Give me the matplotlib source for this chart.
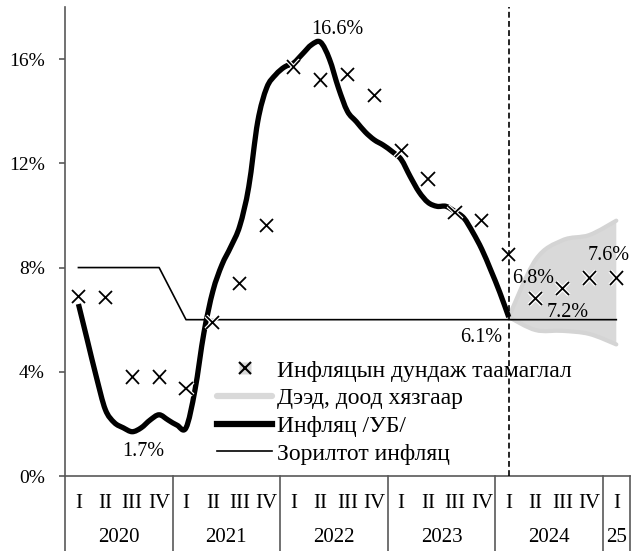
import numpy as np
import matplotlib
matplotlib.use("Agg")
import matplotlib.pyplot as plt
from matplotlib.path import Path
from matplotlib.patches import PathPatch
from matplotlib.lines import Line2D
from matplotlib.legend_handler import HandlerTuple
import matplotlib.patheffects as pe
import matplotlib.transforms as mtransforms

plt.rcParams['font.family'] = ['Liberation Serif', 'DejaVu Serif']
plt.rcParams['font.size'] = 14

# ── data ────────────────────────────────────────────────────────────────
quarters = ["I", "II", "III", "IV"] * 5 + ["I"]
years = ["2020", "2021", "2022", "2023", "2024", "25"]
year_len = [4, 4, 4, 4, 4, 1]

# average inflation expectation (quarterly, x = quarter index)
expect_q = list(range(21))
expect_val = [6.9, 6.85, 3.8, 3.8, 3.35, 5.9, 7.4, 9.6, 15.7, 15.2, 15.4, 14.6,
              12.5, 11.4, 10.1, 9.8, 8.5, 6.8, 7.2, 7.6, 7.6]

# inflation (UB), monthly read-off, x in quarter units
infl_x = [k / 3 for k in range(49)]
infl_val = [6.6, 5.2, 3.8, 2.55, 2.05, 1.85, 1.7, 1.85, 2.15, 2.35, 2.15, 1.95,
            1.85, 3.3, 5.5, 7.1, 8.1, 8.8, 9.6, 11.1, 13.6, 14.9, 15.4, 15.7,
            15.85, 16.2, 16.55, 16.65, 16.0, 14.9, 14.0, 13.6, 13.2, 12.9, 12.7, 12.45,
            12.15, 11.5, 10.9, 10.5, 10.35, 10.35, 10.15, 9.9, 9.35, 8.7, 7.9, 7.05,
            6.1]

# target inflation
target_x = [0, 3, 4, 20]
target_val = [8, 8, 6, 6]

# upper / lower bound of the forecast
band_x = [16, 17, 18, 19, 20]
band_hi = [6.1, 8.3, 9.05, 9.25, 9.8]
band_lo = [6.1, 5.6, 5.57, 5.45, 5.05]

forecast_start = 16


def smooth_path(xs, ys):
    pts = np.column_stack([xs, ys]).astype(float)
    n = len(pts)
    verts = [pts[0]]
    codes = [Path.MOVETO]
    for i in range(n - 1):
        p0 = pts[max(i - 1, 0)]
        p1 = pts[i]
        p2 = pts[i + 1]
        p3 = pts[min(i + 2, n - 1)]
        verts += [p1 + (p2 - p0) / 6, p2 - (p3 - p1) / 6, p2]
        codes += [Path.CURVE4] * 3
    return verts, codes


fig = plt.figure(figsize=(6.31, 5.51), dpi=100)
ax = fig.add_axes([0.103, 0.1361, 0.895, 0.8512])
ax.set_xlim(-0.5, 20.5)
ax.set_ylim(0, 18)

# band
v1, c1 = smooth_path(band_x, band_hi)
v2, c2 = smooth_path(band_x[::-1], band_lo[::-1])
c2[0] = Path.LINETO
band = Path(v1 + v2 + [v1[0]], c1 + c2 + [Path.CLOSEPOLY])
ax.add_patch(PathPatch(band, fc="#d9d9d9", ec="none", zorder=1))
for vals in (band_hi, band_lo):
    v, c = smooth_path(band_x, vals)
    ax.add_patch(PathPatch(Path(v, c), fill=False, ec="#d4d4d4", lw=3,
                           capstyle="round", zorder=1.5))

# target
ax.plot(target_x, target_val, color="black", lw=1.2, zorder=2)

# inflation
v, c = smooth_path(infl_x, infl_val)
ax.add_patch(PathPatch(Path(v, c), fill=False, ec="black", lw=3.8,
                       capstyle="butt", joinstyle="round", zorder=3))

# expectations
ax.plot(expect_q, expect_val, ls="none", marker="x", ms=9.5, mew=1.3,
        color="black", zorder=4,
        path_effects=[pe.withStroke(linewidth=3, foreground="white")])

# forecast divider
ax.axvline(forecast_start, color="black", lw=1.2, ls=(0, (3.5, 2)), zorder=5)

# data labels
imax = int(np.argmax(infl_val))
imin = int(np.argmin(infl_val))
lab = dict(textcoords="offset points", ha="center", va="center", fontsize=14.5)
ax.annotate(f"{infl_val[imax]:.1f}%", (infl_x[imax], infl_val[imax]), xytext=(12, 9), **lab)
ax.annotate(f"{infl_val[imin]:.1f}%", (infl_x[imin], infl_val[imin]), xytext=(8, -14.5), **lab)
ax.annotate(f"{infl_val[-1]:.1f}%", (infl_x[-1], infl_val[-1]), xytext=(-19.5, -15), **lab)
ax.annotate(f"{expect_val[17]:.1f}%", (17, expect_val[17]), xytext=(-2, 14.5), **lab)
ax.annotate(f"{expect_val[18]:.1f}%", (18, expect_val[18]), xytext=(3.5, -17), **lab)
ax.annotate(f"{expect_val[19]:.1f}%", (19, expect_val[19]), xytext=(13.7, 16), **lab)

# axes styling
axis_col = "#595959"
for s in ("top", "right"):
    ax.spines[s].set_visible(False)
for s in ("left", "bottom"):
    ax.spines[s].set_color(axis_col)
    ax.spines[s].set_linewidth(1.2)
ax.set_yticks([0, 4, 8, 12, 16])
ax.set_yticklabels([f"{t}%" for t in [0, 4, 8, 12, 16]])
ax.tick_params(axis="y", length=4.5, width=1.2, color=axis_col, pad=10)
ax.set_xticks(range(len(quarters)))
ax.set_xticklabels(quarters, fontsize=15)
ax.tick_params(axis="x", length=0, pad=13)

trans = mtransforms.blended_transform_factory(ax.transData, ax.transAxes)
start = -0.5
ax.plot([start, start], [0, -0.17], transform=trans, color=axis_col, lw=1.2, clip_on=False)
for name, n in zip(years, year_len):
    ax.text(start + n / 2, -0.132, name, transform=trans, ha="center", va="center",
            fontsize=15)
    start += n
    ax.plot([start, start], [0, -0.17], transform=trans, color=axis_col, lw=1.2, clip_on=False)

# legend
h_marker = (Line2D([], [], ls="none", marker="s", ms=8, mfc="#d9d9d9", mec="none"),
            Line2D([], [], ls="none", marker="x", ms=9, mew=1.5, color="black"))
h_band = Line2D([], [], color="#d9d9d9", lw=4.5, solid_capstyle="round")
h_infl = Line2D([], [], color="black", lw=4.5)
h_tgt = Line2D([], [], color="black", lw=1.2)
leg = ax.legend([h_marker, h_band, h_infl, h_tgt],
                ["Инфляцын дундаж таамаглал", "Дээд, доод хязгаар",
                 "Инфляц /УБ/", "Зорилтот инфляц"],
                loc="upper left", bbox_to_anchor=(0.27, 0.247), frameon=False,
                borderaxespad=0, borderpad=0, handlelength=2.3, handletextpad=0.2,
                labelspacing=0.26, fontsize=17,
                handler_map={tuple: HandlerTuple(ndivide=1, pad=0)})
leg.set_zorder(4.5)

fig.savefig("out.png", dpi=100)
